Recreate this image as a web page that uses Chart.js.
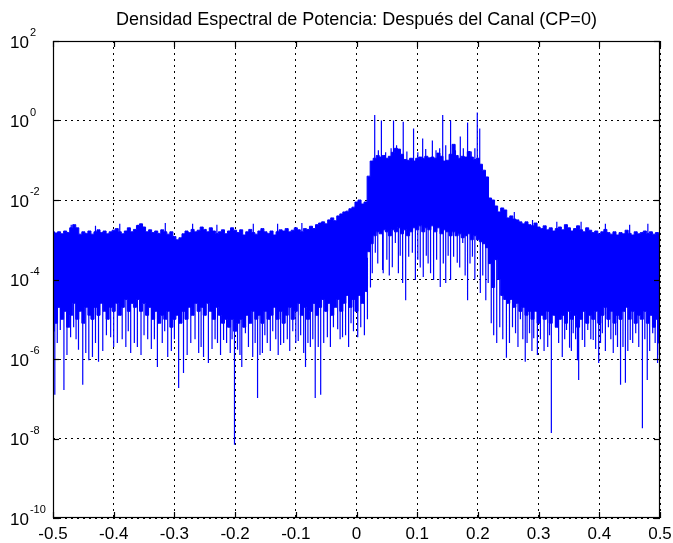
<!DOCTYPE html>
<html>
<head>
<meta charset="utf-8">
<script src="https://cdn.jsdelivr.net/npm/chart.js@4.4.1/dist/chart.umd.min.js"></script>
<style>
  html, body { margin: 0; padding: 0; background: #fff; }
  canvas { display: block; }
</style>
</head>
<body>
<canvas id="psd" width="673" height="543"></canvas>
<script>
// Power spectral density after the channel, normalised frequency -0.5 .. 0.5.
const chartTitle = 'Densidad Espectral de Potencia: Después del Canal (CP=0)';

// Envelope of the noisy spectrum, sampled every 0.005 from -0.5 (log10 of power).
const freqStart = -0.5;
const freqStep = 0.005;
const hiExp = [
  -2.80,-2.83,-2.80,-2.85,-2.78,-2.82,-2.70,-2.62,-2.70,-2.86,
  -2.80,-2.84,-2.78,-2.86,-2.80,-2.75,-2.82,-2.78,-2.85,-2.80,
  -2.76,-2.72,-2.80,-2.85,-2.78,-2.70,-2.80,-2.74,-2.64,-2.60,
  -2.68,-2.80,-2.75,-2.82,-2.78,-2.84,-2.75,-2.80,-2.86,-2.80,
  -2.92,-3.00,-2.95,-2.85,-2.78,-2.82,-2.74,-2.80,-2.76,-2.68,
  -2.74,-2.80,-2.70,-2.78,-2.84,-2.80,-2.75,-2.85,-2.78,-2.70,
  -2.76,-2.82,-2.75,-2.88,-2.80,-2.74,-2.82,-2.86,-2.78,-2.72,
  -2.80,-2.84,-2.78,-2.88,-2.80,-2.75,-2.78,-2.72,-2.80,-2.76,
  -2.70,-2.75,-2.80,-2.72,-2.74,-2.66,-2.72,-2.62,-2.58,-2.55,
  -2.60,-2.50,-2.45,-2.52,-2.40,-2.35,-2.30,-2.28,-2.22,-2.18,
  -2.05,-2.00,-2.10,-2.05,-1.40,-1.02,-0.95,-0.88,-0.92,-0.88,
  -0.95,-0.90,-0.80,-0.70,-0.72,-0.85,-0.98,-1.00,-0.95,-1.02,
  -0.95,-0.92,-0.95,-0.90,-0.94,-0.92,-0.95,-0.82,-0.90,-1.02,
  -1.00,-0.85,-0.60,-0.88,-0.95,-0.90,-0.92,-0.78,-0.92,-0.98,
  -0.95,-1.10,-1.25,-1.42,-1.95,-2.00,-2.15,-2.30,-2.20,-2.25,
  -2.45,-2.40,-2.48,-2.50,-2.55,-2.60,-2.55,-2.62,-2.65,-2.58,
  -2.68,-2.72,-2.65,-2.75,-2.70,-2.78,-2.72,-2.68,-2.75,-2.62,
  -2.70,-2.78,-2.72,-2.65,-2.75,-2.80,-2.70,-2.76,-2.82,-2.78,
  -2.85,-2.80,-2.74,-2.82,-2.86,-2.80,-2.88,-2.82,-2.85,-2.76,
  -2.84,-2.88,-2.80,-2.85,-2.82,-2.78,-2.84,-2.80,-2.86,-2.82,-2.85
];
const loExp = [
  -5.3,-5.1,-4.7,-5.0,-4.8,-5.2,-4.9,-4.6,-5.0,-4.8,
  -5.1,-4.7,-4.9,-5.0,-4.7,-4.9,-4.6,-4.8,-5.0,-4.7,
  -4.8,-4.6,-4.9,-4.7,-4.5,-4.8,-4.6,-4.7,-4.5,-4.8,
  -4.6,-4.9,-4.7,-5.0,-4.8,-5.1,-4.9,-5.0,-4.8,-5.2,
  -5.0,-4.9,-5.1,-4.8,-5.0,-4.7,-4.9,-4.6,-4.8,-4.7,
  -4.9,-4.6,-4.8,-5.0,-4.7,-4.9,-5.1,-5.0,-5.2,-5.0,
  -5.3,-5.1,-5.0,-5.2,-4.9,-5.1,-4.8,-5.0,-4.9,-5.1,
  -4.8,-5.0,-4.9,-4.7,-5.0,-4.8,-5.1,-4.9,-4.7,-5.0,
  -4.8,-4.6,-4.9,-4.7,-5.0,-4.8,-4.6,-4.9,-4.7,-4.5,
  -4.8,-4.6,-4.9,-4.7,-4.5,-4.8,-4.6,-4.4,-4.7,-4.5,
  -4.8,-4.4,-4.6,-4.3,-3.3,-3.1,-2.9,-2.8,-2.85,-2.75,
  -2.8,-2.9,-2.75,-2.8,-2.7,-2.85,-2.75,-2.9,-2.8,-2.7,
  -2.75,-2.65,-2.8,-2.7,-2.75,-2.65,-2.8,-2.7,-2.85,-2.75,
  -2.8,-2.9,-2.8,-2.9,-2.85,-2.95,-2.9,-2.85,-3.0,-2.9,
  -3.0,-3.05,-3.1,-3.2,-3.6,-4.2,-3.5,-4.0,-4.4,-4.5,
  -4.6,-4.5,-4.7,-4.6,-4.8,-4.7,-4.9,-4.8,-5.0,-4.8,
  -5.1,-4.9,-5.0,-4.8,-5.1,-4.9,-5.2,-5.0,-4.9,-5.1,
  -4.8,-5.0,-4.9,-5.2,-5.0,-4.8,-5.1,-4.9,-5.0,-4.8,
  -5.1,-4.9,-4.7,-5.0,-4.8,-5.1,-4.9,-5.0,-4.8,-4.7,
  -5.0,-4.8,-5.1,-4.9,-5.0,-4.8,-5.1,-4.9,-5.2,-5.0,-5.6
];

// Deep isolated dips below the noise band (frequency, log10 of tip).
const dipFreq = [
  -0.497,-0.488,-0.482,-0.471,-0.466,-0.458,-0.451,-0.446,-0.441,-0.435,
  -0.425,-0.405,-0.400,-0.394,-0.386,-0.372,-0.361,-0.344,-0.328,-0.311,
  -0.293,-0.285,-0.273,-0.260,-0.252,-0.244,-0.229,-0.219,-0.208,-0.201,
  -0.196,-0.189,-0.183,-0.171,-0.163,-0.155,-0.147,-0.138,-0.125,-0.114,
  -0.105,-0.096,-0.087,-0.084,-0.076,-0.068,-0.059,-0.048,-0.038,-0.031,
  -0.023,-0.013,-0.005,0.002,0.013,
  0.026,0.031,0.043,0.044,0.059,0.064,0.069,0.076,0.081,0.086,
  0.092,0.097,0.110,0.122,0.127,0.138,0.147,0.155,0.160,0.166,
  0.175,0.183,0.191,0.199,0.204,0.213,0.217,
  0.222,0.231,0.247,0.257,0.262,0.270,0.278,0.285,0.292,0.298,
  0.315,0.321,0.328,0.339,0.346,0.351,0.357,0.364,0.366,0.372,
  0.381,0.390,0.399,0.405,0.415,0.423,0.430,0.435,0.443,0.451,
  0.460,0.471,0.479,0.488,0.496
];
const dipExp = [
  -6.90,-5.27,-6.78,-5.45,-5.20,-5.77,-6.65,-5.85,-6.03,-5.95,
  -6.07,-5.45,-5.70,-5.60,-5.50,-5.85,-5.70,-5.50,-6.20,-5.95,
  -6.73,-6.35,-5.60,-5.85,-5.95,-6.10,-5.60,-5.52,-5.85,-8.16,
  -5.77,-6.20,-5.35,-5.95,-6.98,-5.85,-5.60,-5.30,-5.65,-5.50,
  -5.30,-5.55,-5.85,-6.20,-5.70,-6.98,-6.90,-5.45,-5.20,-5.25,
  -5.45,-5.70,-5.30,-5.45,-5.40,
  -3.84,-3.33,-3.76,-3.84,-3.69,-3.08,-3.84,-4.09,-4.52,-3.43,
  -3.33,-4.01,-3.94,-3.84,-4.01,-4.19,-4.09,-4.01,-3.43,-3.58,
  -3.08,-4.52,-3.43,-3.00,-4.34,-4.52,-4.09,
  -5.10,-5.60,-5.97,-5.20,-5.35,-5.00,-6.07,-5.35,-5.48,-5.90,
  -5.70,-7.86,-5.20,-5.95,-5.27,-5.72,-5.35,-6.03,-6.53,-5.52,
  -5.27,-5.52,-6.10,-5.35,-5.20,-5.85,-5.70,-6.65,-6.60,-5.52,
  -5.35,-7.74,-6.53,-5.35,-6.10
];

// Shallower dips that make the ragged lower edge of the band.
const fringeFreq = [
  -0.493,-0.477,-0.462,-0.430,-0.418,-0.412,-0.380,-0.376,-0.366,-0.355,
  -0.350,-0.338,-0.333,-0.320,-0.316,-0.305,-0.300,-0.279,-0.266,-0.256,
  -0.238,-0.233,-0.224,-0.214,-0.205,-0.192,-0.178,-0.167,-0.159,-0.151,
  -0.142,-0.133,-0.129,-0.120,-0.110,-0.100,-0.092,-0.080,-0.072,-0.063,
  -0.054,-0.043,-0.027,-0.018,-0.009,0.007,0.018,
  0.023,0.035,0.050,0.054,0.072,0.101,0.105,0.115,0.118,0.132,
  0.143,0.151,0.170,0.179,0.187,0.195,0.208,
  0.226,0.236,0.241,0.252,0.266,0.274,0.281,0.289,0.303,0.309,
  0.318,0.333,0.343,0.354,0.361,0.376,0.386,0.394,0.402,0.410,
  0.419,0.427,0.439,0.447,0.455,0.465,0.475,0.483,0.492,0.499
];
const fringeExp = [
  -5.60,-5.90,-5.50,-5.60,-5.80,-5.40,-5.70,-5.30,-5.60,-5.90,
  -5.40,-5.75,-5.50,-5.60,-5.30,-5.80,-5.50,-5.90,-5.50,-5.70,
  -5.75,-5.50,-5.90,-5.60,-5.50,-5.90,-5.70,-5.60,-5.90,-5.40,
  -5.80,-5.50,-5.90,-5.60,-5.80,-5.60,-5.40,-5.60,-5.50,-5.70,
  -5.60,-5.70,-5.50,-5.40,-5.10,-5.20,-5.00,
  -4.20,-3.60,-3.50,-3.90,-3.40,-3.50,-3.70,-3.40,-3.60,-3.50,
  -3.60,-3.40,-3.70,-3.90,-3.60,-4.00,-3.90,
  -5.40,-5.20,-5.50,-5.60,-5.70,-5.50,-5.60,-5.80,-5.50,-5.80,
  -5.40,-5.60,-5.50,-5.80,-5.50,-5.70,-5.50,-5.75,-5.60,-5.80,
  -5.50,-5.40,-5.70,-5.80,-5.60,-5.70,-5.50,-5.80,-5.60,-5.90
];

// Short peaks poking above the upper edge of the band.
const crestFreq = [
  -0.470,-0.430,-0.390,-0.360,-0.315,-0.270,-0.230,-0.170,-0.130,-0.090,
  0.036,0.048,0.057,0.066,0.083,0.101,0.114,0.131,0.137,0.147,0.163,0.176,0.189,0.195,
  0.260,0.290,0.330,0.370,0.410,0.450,0.480
];
const crestExp = [
  -2.62,-2.65,-2.60,-2.62,-2.58,-2.60,-2.62,-2.60,-2.60,-2.58,
  -0.75,-0.80,-0.70,-0.62,-0.78,-0.80,-0.72,-0.75,-0.70,-0.62,-0.75,-0.70,-0.78,-0.70,
  -2.30,-2.50,-2.55,-2.55,-2.60,-2.62,-2.60
];

// Pilot tones standing above the occupied band.
const pilotFreq = [0.030,0.041,0.061,0.077,0.094,0.109,0.125,0.142,0.155,0.171,0.183,0.199,0.203];
const pilotExp  = [0.14, 0.00, 0.00,-0.03,-0.20,-0.45,-0.50, 0.14, 0.00,-0.40,-0.05, 0.20,-0.20];

const xTicks = [-0.5,-0.4,-0.3,-0.2,-0.1,0,0.1,0.2,0.3,0.4,0.5];
const xTickLabels = ['-0.5','-0.4','-0.3','-0.2','-0.1','0','0.1','0.2','0.3','0.4','0.5'];
const yTickExps = [2,0,-2,-4,-6,-8,-10];

const BLUE = '#0000ff';
const FONT = '"Liberation Sans", Arial, sans-serif';

const freqAt = i => +(freqStart + i * freqStep).toFixed(4);
const envAt = (arr, f) => {
  const p = (f - freqStart) / freqStep;
  const i = Math.max(0, Math.min(arr.length - 2, Math.floor(p)));
  const t = Math.min(1, Math.max(0, p - i));
  return arr[i] * (1 - t) + arr[i + 1] * t;
};

const upper = hiExp.map((e, i) => ({ x: freqAt(i), y: Math.pow(10, e) }));
const lower = loExp.map((e, i) => ({ x: freqAt(i), y: Math.pow(10, e) }));

// Vertical strokes from inside the band out to each tip.
function strokes(freqs, tips, env, offset) {
  const pts = [];
  freqs.forEach((f, k) => {
    const base = envAt(env, f) + offset;
    pts.push({ x: f, y: Math.pow(10, base) }, { x: f, y: Math.pow(10, tips[k]) }, { x: f, y: null });
  });
  return pts;
}
const dipPts = strokes(dipFreq, dipExp, loExp, 0.25);
const fringePts = strokes(fringeFreq, fringeExp, loExp, 0.25);
const crestPts = strokes(crestFreq, crestExp, hiExp, -0.25);
const pilotPts = strokes(pilotFreq, pilotExp, hiExp, -0.3);

const axesDecor = {
  id: 'axesDecor',
  afterDraw(chart) {
    const { ctx, chartArea: a, scales: { x, y } } = chart;
    ctx.save();
    ctx.strokeStyle = '#000';
    ctx.lineWidth = 1.2;
    ctx.strokeRect(a.left + 0.5, a.top + 0.5, a.right - a.left - 1, a.bottom - a.top - 1);
    const seg = (x1, y1, x2, y2) => { ctx.beginPath(); ctx.moveTo(x1, y1); ctx.lineTo(x2, y2); ctx.stroke(); };
    const tl = 6;
    xTicks.forEach(v => {
      const px = Math.round(x.getPixelForValue(v)) + 0.5;
      seg(px, a.bottom, px, a.bottom - tl);
      seg(px, a.top, px, a.top + tl);
    });
    yTickExps.forEach(e => {
      const py = Math.round(y.getPixelForValue(Math.pow(10, e))) + 0.5;
      seg(a.left, py, a.left + tl, py);
      seg(a.right, py, a.right - tl, py);
    });
    ctx.fillStyle = '#000';
    ctx.font = '17px ' + FONT;
    ctx.textAlign = 'center';
    ctx.textBaseline = 'alphabetic';
    xTicks.forEach((v, k) => {
      ctx.fillText(xTickLabels[k], x.getPixelForValue(v), a.bottom + 21);
    });
    ctx.textAlign = 'left';
    yTickExps.forEach(e => {
      const py = y.getPixelForValue(Math.pow(10, e));
      ctx.font = '17px ' + FONT;
      ctx.fillText('10', 10, py + 6.5);
      const w = ctx.measureText('10').width;
      ctx.font = '11px ' + FONT;
      ctx.fillText(String(e), 10 + w + 1, py - 5);
    });
    ctx.font = '18px ' + FONT;
    ctx.textAlign = 'center';
    ctx.fillText(chartTitle, (a.left + a.right) / 2, 25);
    ctx.restore();
  }
};

const strokeSet = pts => ({ data: pts, borderColor: BLUE, borderWidth: 1.2, pointRadius: 0, fill: false, spanGaps: false });

new Chart(document.getElementById('psd'), {
  type: 'line',
  data: {
    datasets: [
      { data: upper, borderColor: BLUE, borderWidth: 1, pointRadius: 0, fill: false, stepped: 'middle' },
      { data: lower, borderColor: BLUE, borderWidth: 1, pointRadius: 0, fill: '-1', backgroundColor: BLUE, stepped: 'middle' },
      strokeSet(dipPts),
      strokeSet(fringePts),
      strokeSet(crestPts),
      strokeSet(pilotPts)
    ]
  },
  options: {
    responsive: false,
    animation: false,
    events: [],
    layout: { padding: { left: 53, top: 41, right: 13, bottom: 25 } },
    plugins: { legend: { display: false }, tooltip: { enabled: false }, title: { display: false } },
    scales: {
      x: {
        type: 'linear', min: -0.5, max: 0.5,
        afterBuildTicks: s => { s.ticks = xTicks.map(v => ({ value: v })); },
        ticks: { display: false },
        grid: { color: '#000', lineWidth: 1, drawTicks: false },
        border: { display: false, dash: [2, 4] }
      },
      y: {
        type: 'logarithmic', min: 1e-10, max: 1e2,
        afterBuildTicks: s => { s.ticks = yTickExps.map(e => ({ value: Math.pow(10, e) })); },
        ticks: { display: false },
        grid: { color: '#000', lineWidth: 1, drawTicks: false },
        border: { display: false, dash: [2, 4] }
      }
    }
  },
  plugins: [axesDecor]
});
</script>
</body>
</html>
